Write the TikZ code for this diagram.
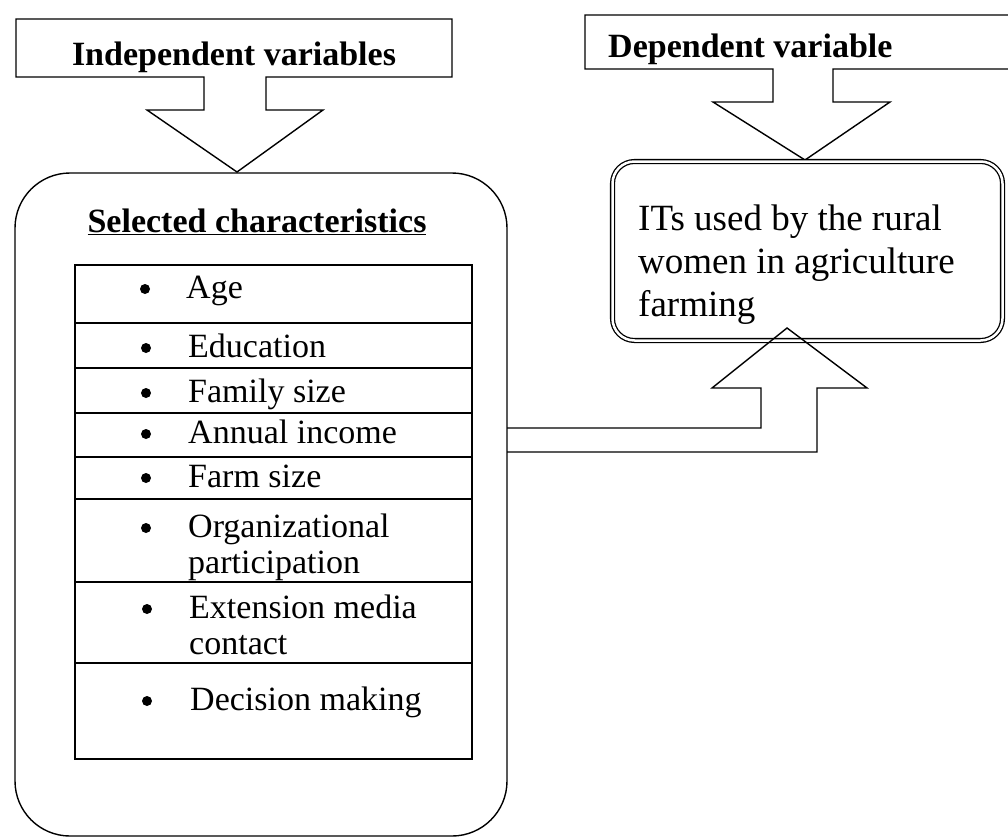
\documentclass[tikz,border=0pt]{standalone}
\usepackage{fontspec}
\setmainfont{Liberation Serif}
\begin{document}
\begin{tikzpicture}[x=1pt,y=-1pt,
  line/.style={line width=1.4pt,line join=miter},
  tline/.style={line width=1.2pt},
  body/.style={font=\fontsize{34}{36}\selectfont, inner sep=0pt, align=left},
  head/.style={font=\fontsize{34}{38}\selectfont\bfseries, inner sep=0pt},
  itsfont/.style={font=\fontsize{37}{43}\selectfont, inner sep=0pt, align=left},
  dot/.style={circle,fill,inner sep=0pt,minimum size=10pt}]
\useasboundingbox (0,0) rectangle (1008,838);
\fill[white] (0,0) rectangle (1008,838);

% Independent variables callout
\draw[line] (16,19) -- (452,19) -- (452,77) -- (266,77) -- (266,110) -- (323,110)
  -- (237,172) -- (147,110) -- (204,110) -- (204,77) -- (16,77) -- cycle;
\node[head,anchor=base] (indep) at (234,65) {Independent variables};

% Dependent variable callout
\draw[line] (1012,15) -- (585,15) -- (585,69) -- (773,69) -- (773,102) -- (713,102)
  -- (805,160) -- (890,102) -- (833,102) -- (833,69) -- (1012,69);
\node[head,anchor=base west] (dep) at (608,57) {Dependent variable};

% Big rounded box
\draw[line, rounded corners=55] (15,173) rectangle (507,836);
\node[head,anchor=base] (sel) at (257,232) {\underline{Selected characteristics}};

% Table
\draw[tline] (75,265) rectangle (472,759);
\foreach \y in {323,368,413,457,499,582,663} \draw[tline] (75,\y) -- (472,\y);

\node[dot] (b1) at (145,289) {};
\node[body,anchor=base west] (r1) at (186,298) {Age};
\node[dot] (b2) at (146,348) {};
\node[body,anchor=base west] (r2) at (188,357) {Education};
\node[dot] (b3) at (146,393) {};
\node[body,anchor=base west] (r3) at (188,402) {Family size};
\node[dot] (b4) at (146,434) {};
\node[body,anchor=base west] (r4) at (188,443) {Annual income};
\node[dot] (b5) at (146,478) {};
\node[body,anchor=base west] (r5) at (188,487) {Farm size};
\node[dot] (b6) at (146,528) {};
\node[body,anchor=base west] (r6) at (188,573) {Organizational\\participation};
\node[dot] (b7) at (147,609) {};
\node[body,anchor=base west] (r7) at (189,654) {Extension media\\contact};
\node[dot] (b8) at (147,701) {};
\node[body,anchor=base west] (r8) at (190,710) {Decision making};

% Dependent box (double border)
\draw[line width=1.3pt,double,double distance=2.5pt,rounded corners=22]
  (612.5,161.5) rectangle (1002.5,340.5);
\node[itsfont,anchor=base west] (its) at (638,316) {ITs used by the rural\\women in agriculture\\farming};

% Connector arrow from big box to dependent box
\coordinate (c1) at (507,428);
\coordinate (c2) at (507,452);
\draw[line] (c1) -- (761,428) -- (761,388) -- (712,388) -- (787,328) -- (867,388)
  -- (817,388) -- (817,452) -- (c2);
\end{tikzpicture}
\end{document}
